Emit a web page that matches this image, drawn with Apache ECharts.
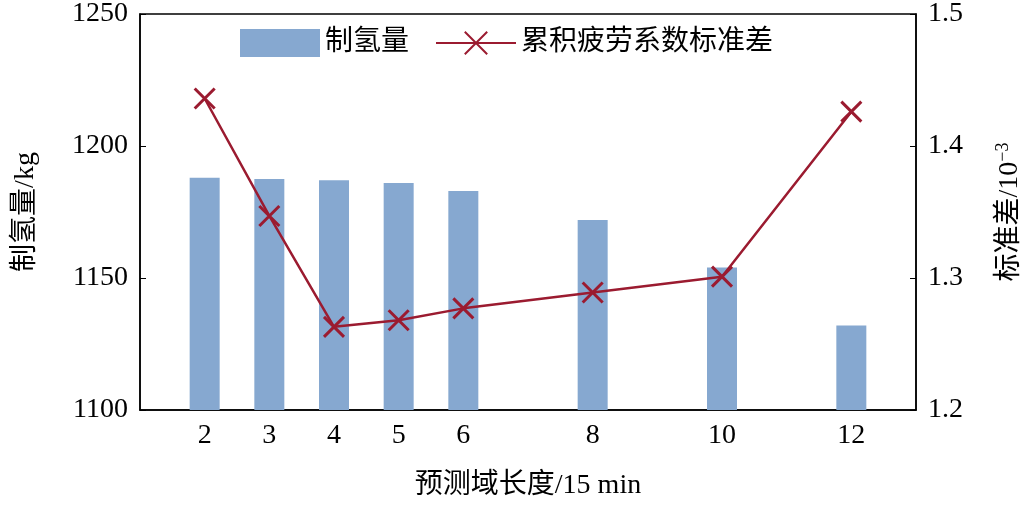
<!DOCTYPE html>
<html><head><meta charset="utf-8">
<script src="https://cdn.jsdelivr.net/npm/echarts@6/dist/echarts.min.js"></script>
<style>html,body{margin:0;background:#fff}#c{width:1032px;height:510px}</style>
</head><body><div id="c"></div>
<script>
const categories=[2,3,4,5,6,8,10,12];
const hydrogen=[1188,1187.5,1187,1186,1183,1172,1154,1132];
const stddev=[1.436,1.347,1.263,1.268,1.277,1.289,1.301,1.426];
const xTicks=[2,3,4,5,6,8,10,12];
const F='"Liberation Serif","Noto Sans CJK SC",serif';
const chart=echarts.init(document.getElementById('c'));
const X='path://M0,0L10,10M10,0L0,10';
chart.setOption({
  animation:false,
  textStyle:{fontFamily:F},
  grid:{left:140,right:112,top:12,bottom:100,show:true,borderColor:'#000',borderWidth:1.5},
  legend:{top:24,left:235,itemWidth:80,itemHeight:28,itemGap:26,
    textStyle:{fontFamily:F,fontSize:28,color:'#000'},
    data:[{name:'制氢量',icon:'rect'},{name:'累积疲劳系数标准差'}]},
  xAxis:{type:'value',min:1,max:13,
    axisLine:{lineStyle:{color:'#000',width:1.5}},
    axisTick:{show:true,inside:true,length:6,customValues:xTicks,lineStyle:{color:'#000'}},
    axisLabel:{customValues:xTicks,color:'#000',fontSize:28,fontFamily:F,margin:12},
    splitLine:{show:false},
    name:'预测域长度/15 min',nameLocation:'middle',nameGap:62,
    nameTextStyle:{color:'#000',fontSize:28,fontFamily:F}},
  yAxis:[{type:'value',min:1100,max:1250,interval:50,
    axisLine:{show:true,lineStyle:{color:'#000',width:1.5}},
    axisTick:{inside:true,length:6,lineStyle:{color:'#000'}},
    axisLabel:{color:'#000',fontSize:28,fontFamily:F,margin:12,formatter:v=>String(v)},
    splitLine:{show:false},
    name:'制氢量/kg',nameLocation:'middle',nameGap:100,nameRotate:90,
    nameTextStyle:{color:'#000',fontSize:28,fontFamily:F}},
   {type:'value',min:1.2,max:1.5,interval:0.1,position:'right',
    axisLine:{show:true,lineStyle:{color:'#000',width:1.5}},
    axisTick:{inside:true,length:6,lineStyle:{color:'#000'}},
    axisLabel:{color:'#000',fontSize:28,fontFamily:F,margin:12,formatter:v=>v.toFixed(1)},
    splitLine:{show:false},
    name:'{a|标准差/10}{s|−3}',nameLocation:'middle',nameGap:78,nameRotate:90,
    nameTextStyle:{rich:{a:{color:'#000',fontSize:28,fontFamily:F},s:{color:'#000',fontSize:18,fontFamily:F,verticalAlign:'top',padding:[0,0,14,0]}}}}],
  series:[
   {name:'制氢量',type:'bar',barWidth:30,itemStyle:{color:'#86a8d0'},
    data:categories.map((c,i)=>[c,hydrogen[i]])},
   {name:'累积疲劳系数标准差',type:'line',yAxisIndex:1,
    symbol:X,symbolSize:20,
    lineStyle:{color:'#9b1b30',width:2.5},
    itemStyle:{color:'#9b1b30',borderColor:'#9b1b30',borderWidth:3},
    data:categories.map((c,i)=>[c,stddev[i]])}
  ]
});
</script></body></html>
